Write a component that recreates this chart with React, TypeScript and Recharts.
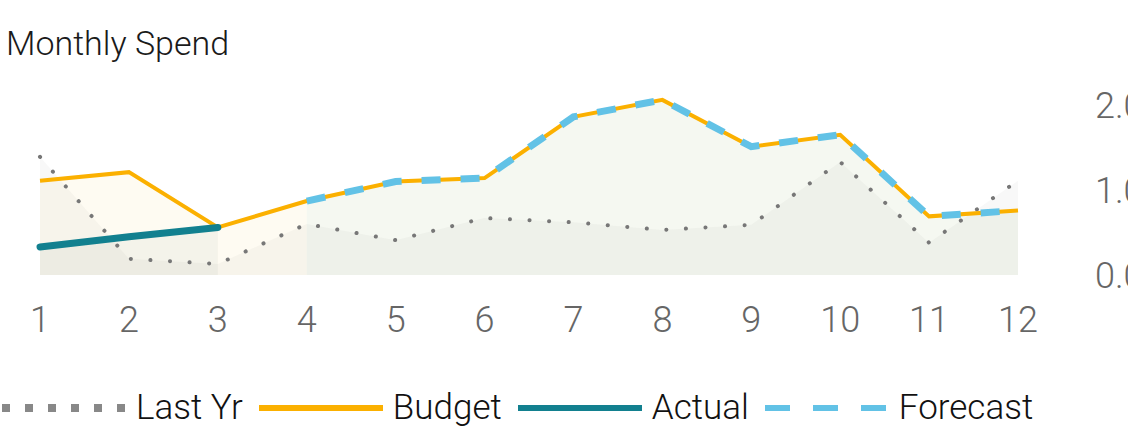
import { ComposedChart, Area, Line, XAxis, YAxis } from "recharts";

const months = ["1", "2", "3", "4", "5", "6", "7", "8", "9", "10", "11", "12"];
const lastYr = [1.39, 0.19, 0.13, 0.6, 0.41, 0.67, 0.62, 0.53, 0.59, 1.33, 0.38, 1.11];
const budget = [1.11, 1.21, 0.56, 0.87, 1.1, 1.14, 1.86, 2.06, 1.51, 1.65, 0.69, 0.76];
const actual = [0.33, 0.45, 0.56, null, null, null, null, null, null, null, null, null];
const forecast = [null, null, null, 0.87, 1.1, 1.14, 1.86, 2.06, 1.51, 1.65, 0.69, 0.76];
// budget shading stops where the forecast begins
const budgetShadeMonths = 4;
const yTicks = [0, 1, 2];

const FONT = "Roboto, 'DejaVu Sans', sans-serif";
const GREY = "#777777";
const ORANGE = "#FBB000";
const TEAL = "#12808F";
const BLUE = "#62C2E6";

const data = months.map((m, i) => ({
  month: m,
  lastYr: lastYr[i],
  budget: budget[i],
  actual: actual[i],
  forecast: forecast[i],
  budgetShade: i < budgetShadeMonths ? budget[i] : null,
}));

const legendItems = [
  { label: "Last Yr", color: "#888888", width: 8, dash: "8 15" },
  { label: "Budget", color: ORANGE, width: 6, dash: undefined },
  { label: "Actual", color: TEAL, width: 6, dash: undefined },
  { label: "Forecast", color: BLUE, width: 6, dash: "25 23" },
];

function ChartLegend() {
  return (
    <div
      style={{
        position: "absolute",
        left: 2,
        top: 388,
        height: 40,
        display: "flex",
        alignItems: "center",
        fontFamily: FONT,
        fontWeight: 300,
        fontSize: 35,
        lineHeight: "40px",
        color: "#111",
      }}
    >
      {legendItems.map((item) => (
        <div key={item.label} style={{ display: "flex", alignItems: "center", marginRight: 16 }}>
          <svg width={124} height={12} style={{ marginRight: 10 }}>
            <line
              x1={0}
              y1={6}
              x2={124}
              y2={6}
              stroke={item.color}
              strokeWidth={item.width}
              strokeDasharray={item.dash}
            />
          </svg>
          <span>{item.label}</span>
        </div>
      ))}
    </div>
  );
}

export default function App() {
  return (
    <div
      style={{
        position: "absolute",
        left: 0,
        top: 0,
        width: 1128,
        height: 440,
        overflow: "hidden",
        background: "#fff",
      }}
    >
      <div
        style={{
          position: "absolute",
          left: 6,
          top: 26,
          fontFamily: FONT,
          fontWeight: 300,
          fontSize: 34,
          lineHeight: "35px",
          color: "#1a1a1a",
          whiteSpace: "nowrap",
        }}
      >
        Monthly Spend
      </div>
      <div style={{ position: "absolute", left: 0, top: 0 }}>
        <ComposedChart
          width={1150}
          height={440}
          data={data}
          margin={{ top: 88, right: 32, bottom: 105, left: 40 }}
        >
          <XAxis
            dataKey="month"
            scale="point"
            padding={{ left: 0, right: 0 }}
            axisLine={false}
            tickLine={false}
            tickSize={0}
            tickMargin={31}
            height={60}
            interval={0}
            tick={{ fill: "#666", fontSize: 36, fontFamily: FONT, fontWeight: 300 }}
          />
          <YAxis
            orientation="right"
            domain={[0, 2.2]}
            ticks={yTicks}
            tickFormatter={(v: number) => v.toFixed(1)}
            axisLine={false}
            tickLine={false}
            tickSize={0}
            tickMargin={77}
            width={100}
            tick={{ fill: "#666", fontSize: 36, fontFamily: FONT, fontWeight: 300 }}
          />
          <Area
            dataKey="lastYr"
            type="linear"
            stroke="none"
            fill="#808080"
            fillOpacity={0.06}
            isAnimationActive={false}
            activeDot={false}
          />
          <Area
            dataKey="budgetShade"
            type="linear"
            stroke="none"
            fill="#EEBC26"
            fillOpacity={0.06}
            isAnimationActive={false}
            activeDot={false}
          />
          <Area
            dataKey="forecast"
            type="linear"
            stroke="none"
            fill="#82A750"
            fillOpacity={0.08}
            isAnimationActive={false}
            activeDot={false}
          />
          <Area
            dataKey="actual"
            type="linear"
            stroke="none"
            fill="#7F9A8A"
            fillOpacity={0.08}
            isAnimationActive={false}
            activeDot={false}
          />
          <Line
            dataKey="lastYr"
            type="linear"
            stroke={GREY}
            strokeWidth={4}
            strokeDasharray="0.1 19.5"
            strokeLinecap="round"
            dot={false}
            activeDot={false}
            isAnimationActive={false}
          />
          <Line
            dataKey="budget"
            type="linear"
            stroke={ORANGE}
            strokeWidth={4}
            dot={false}
            activeDot={false}
            isAnimationActive={false}
          />
          <Line
            dataKey="actual"
            type="linear"
            stroke={TEAL}
            strokeWidth={7}
            strokeLinecap="round"
            dot={false}
            activeDot={false}
            isAnimationActive={false}
          />
          <Line
            dataKey="forecast"
            type="linear"
            stroke={BLUE}
            strokeWidth={7}
            strokeDasharray="19 20"
            dot={false}
            activeDot={false}
            isAnimationActive={false}
          />
        </ComposedChart>
      </div>
      <ChartLegend />
    </div>
  );
}
